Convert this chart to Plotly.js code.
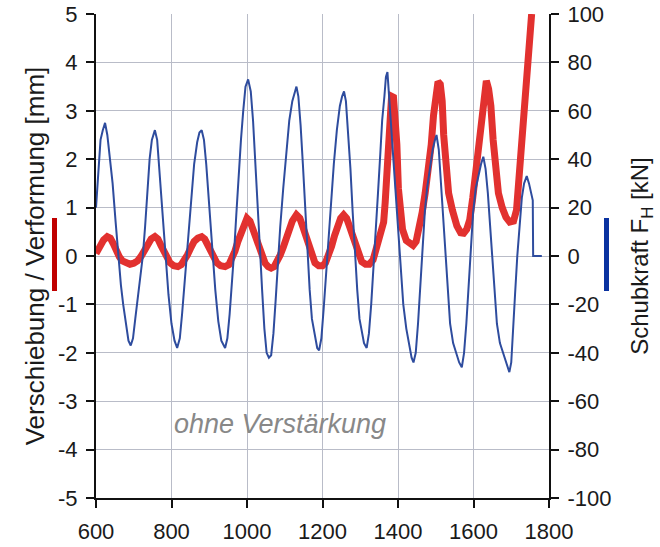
<!DOCTYPE html>
<html>
<head>
<meta charset="utf-8">
<script src="https://cdn.plot.ly/plotly-3.0.1.min.js"></script>
<style>html,body{margin:0;padding:0;background:#fff;}#chart{width:660px;height:547px;}</style>
</head>
<body>
<div id="chart"></div>
<script>
// Verschiebung / Verformung [mm] (left axis)
const redX = [600,606,612,620,630,638,646,654,662,670,680,690,700,710,720,728,736,746,756,764,772,780,788,796,806,817,826,834,842,850,860,870,880,888,896,904,912,920,930,942,952,960,968,976,984,992,1000,1008,1016,1024,1032,1040,1048,1056,1064,1072,1080,1088,1096,1104,1112,1120,1131,1140,1148,1156,1164,1172,1180,1190,1200,1208,1216,1224,1232,1240,1248,1256,1264,1272,1280,1288,1296,1304,1314,1324,1334,1340,1348,1356,1362,1366,1370,1374,1378,1383,1388,1393,1397,1401,1406,1412,1422,1432,1440,1448,1456,1464,1472,1480,1488,1494,1500,1506,1512,1517,1521,1526,1534,1544,1556,1566,1574,1582,1590,1598,1606,1614,1622,1628,1634,1640,1646,1652,1658,1666,1676,1686,1696,1706,1714,1720,1726,1732,1738,1742,1748,1752,1754];
const redY = [0.05,0.15,0.25,0.33,0.40,0.37,0.25,0.10,-0.02,-0.10,-0.15,-0.17,-0.15,-0.10,0.00,0.12,0.25,0.35,0.40,0.35,0.22,0.08,-0.05,-0.14,-0.20,-0.22,-0.18,-0.10,0.02,0.15,0.30,0.37,0.40,0.35,0.22,0.08,-0.05,-0.14,-0.20,-0.22,-0.18,-0.06,0.10,0.30,0.50,0.68,0.78,0.72,0.55,0.35,0.15,-0.02,-0.15,-0.22,-0.25,-0.22,-0.12,0.02,0.18,0.38,0.58,0.72,0.85,0.78,0.60,0.40,0.20,0.02,-0.14,-0.20,-0.20,-0.14,0.00,0.20,0.42,0.62,0.78,0.85,0.78,0.60,0.40,0.18,0.00,-0.12,-0.17,-0.17,-0.08,0.10,0.30,0.50,0.70,1.10,1.60,2.50,3.00,3.30,3.28,2.90,2.30,1.40,0.90,0.55,0.32,0.24,0.22,0.30,0.55,0.90,1.30,1.70,2.30,2.90,3.35,3.60,3.55,3.20,2.50,1.80,1.30,0.95,0.62,0.48,0.47,0.55,0.75,1.20,1.75,2.40,3.10,3.45,3.62,3.45,3.10,2.40,1.80,1.30,1.00,0.80,0.70,0.72,0.95,1.60,2.30,2.80,3.40,4.10,4.60,4.90,5.00];

// Schubkraft F_H [kN] (right axis)
const blueX = [600,604,608,612,618,624,630,636,644,652,659,666,672,680,686,692,698,704,712,718,724,730,736,742,748,756,762,768,774,780,786,792,800,808,815,822,828,834,840,846,852,860,868,874,880,886,892,898,904,910,916,924,932,942,948,954,960,966,972,978,984,990,996,1003,1010,1016,1022,1028,1034,1040,1046,1052,1058,1064,1070,1076,1082,1088,1096,1104,1112,1120,1126,1131,1136,1142,1148,1154,1160,1166,1172,1180,1186,1191,1197,1203,1209,1215,1222,1230,1238,1246,1252,1257,1262,1268,1274,1280,1286,1292,1298,1304,1310,1317,1323,1329,1335,1341,1347,1353,1358,1364,1368,1372,1378,1384,1390,1396,1402,1407,1414,1422,1430,1436,1441,1447,1453,1459,1465,1471,1477,1484,1492,1498,1502,1508,1514,1520,1526,1532,1538,1546,1554,1562,1569,1575,1581,1587,1593,1599,1606,1614,1620,1626,1632,1638,1644,1650,1656,1662,1670,1678,1686,1695,1700,1705,1710,1716,1722,1728,1734,1741,1747,1752,1757,1758,1781];
const blueY = [20,30,42,48,52,55,50,42,30,14,0,-12,-20,-30,-35,-37,-34,-26,-16,-6,0,12,26,40,48,52,48,36,22,8,-4,-16,-28,-35,-38,-34,-24,-12,0,12,24,38,47,51,52,48,38,24,10,-2,-14,-27,-35,-38,-34,-24,-12,2,18,34,48,60,70,73,68,56,40,22,4,-14,-30,-40,-42,-41,-32,-18,-2,12,28,42,56,64,68,70,66,54,38,20,2,-14,-26,-34,-38,-39,-34,-22,-8,6,22,38,52,62,66,68,64,52,36,18,0,-14,-26,-32,-36,-38,-32,-20,-6,10,26,42,56,66,74,76,62,50,38,22,6,-6,-20,-30,-38,-42,-44,-40,-28,-12,4,18,28,36,44,48,50,44,30,14,-2,-16,-28,-36,-40,-44,-46,-40,-28,-12,4,18,28,34,38,41,36,26,12,-2,-16,-28,-36,-40,-44,-48,-44,-32,-16,0,14,24,30,33,30,26,23,0,0];

const xTicks = [600,800,1000,1200,1400,1600,1800];
const xTickText = ['600','800','1000','1200','1400','1600','1800'];
const yTicks = [-5,-4,-3,-2,-1,0,1,2,3,4,5];
const yTickText = ['-5','-4','-3','-2','-1','0','1','2','3','4','5'];
const y2Ticks = [-100,-80,-60,-40,-20,0,20,40,60,80,100];
const y2TickText = ['-100','-80','-60','-40','-20','0','20','40','60','80','100'];

const FONT = 'Liberation Sans, Arial, sans-serif';

const traces = [
  {x: redX, y: redY, type: 'scatter', mode: 'lines', yaxis: 'y',
   line: {color: '#e2312f', width: 7}, hoverinfo: 'skip', showlegend: false},
  {x: blueX, y: blueY, type: 'scatter', mode: 'lines', yaxis: 'y2',
   line: {color: '#2e4c9e', width: 2}, hoverinfo: 'skip', showlegend: false}
];

const layout = {
  width: 660, height: 547,
  margin: {l: 96, r: 111, t: 14, b: 49},
  paper_bgcolor: '#ffffff', plot_bgcolor: '#ffffff',
  font: {family: FONT, size: 22, color: '#1a1a1a'},
  showlegend: false,
  xaxis: {
    range: [600, 1800], tickvals: xTicks, ticktext: xTickText,
    showgrid: true, gridcolor: '#b9bcc8', gridwidth: 1,
    showline: true, linecolor: '#111', linewidth: 2,
    ticks: 'outside', ticklen: 8, tickwidth: 2, tickcolor: '#111',
    ticklabelstandoff: 5,
    zeroline: false, fixedrange: true
  },
  yaxis: {
    range: [-5, 5], tickvals: yTicks, ticktext: yTickText,
    showgrid: true, gridcolor: '#b9bcc8', gridwidth: 1,
    showline: true, linecolor: '#111', linewidth: 2,
    ticks: 'outside', ticklen: 8, tickwidth: 2, tickcolor: '#111',
    ticklabelstandoff: 4,
    zeroline: false, fixedrange: true,
    title: {text: 'Verschiebung / Verformung [mm]', font: {family: FONT, size: 26, color: '#1a1a1a'}, standoff: 6}
  },
  yaxis2: {
    range: [-100, 100], tickvals: y2Ticks, ticktext: y2TickText,
    overlaying: 'y', side: 'right', showgrid: false,
    showline: true, linecolor: '#111', linewidth: 2,
    ticks: 'outside', ticklen: 8, tickwidth: 2, tickcolor: '#111',
    ticklabelstandoff: 4,
    zeroline: false, fixedrange: true,
    title: {text: 'Schubkraft F<sub>H</sub> [kN]', font: {family: FONT, size: 24, color: '#1a1a1a'}, standoff: 21}
  },
  annotations: [
    {x: 1087, y: -3.47, xref: 'x', yref: 'y', text: '<i>ohne Verstärkung</i>', showarrow: false,
     font: {family: FONT, size: 27, color: '#888888'}}
  ],
  shapes: [
    {type: 'rect', xref: 'paper', yref: 'paper', x0: -0.0971, x1: -0.0861, y0: 0.4277, y1: 0.5785,
     fillcolor: '#c00000', line: {width: 0}},
    {type: 'rect', xref: 'paper', yref: 'paper', x0: 1.1214, x1: 1.1325, y0: 0.4277, y1: 0.5785,
     fillcolor: '#0a32a0', line: {width: 0}}
  ]
};

Plotly.newPlot('chart', traces, layout, {displayModeBar: false, staticPlot: true});
</script>
</body>
</html>
